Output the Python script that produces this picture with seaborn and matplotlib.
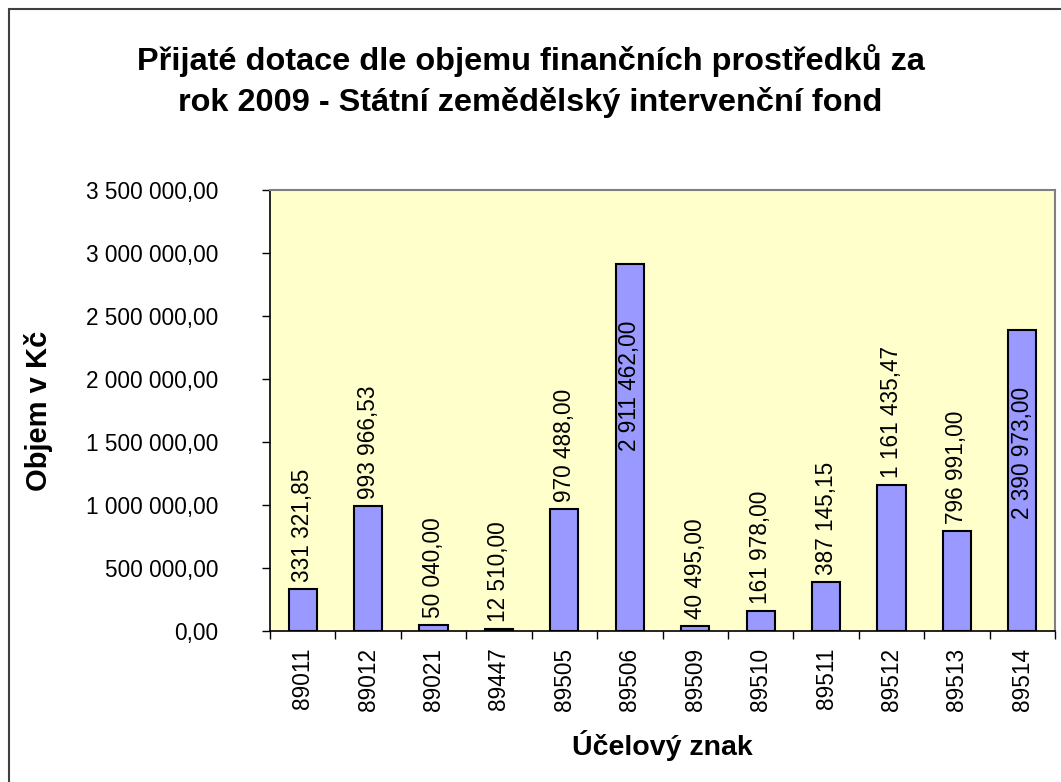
import matplotlib
matplotlib.use('Agg')
import matplotlib.pyplot as plt
import matplotlib.ticker as mticker
import seaborn as sns
import pandas as pd
from matplotlib.patches import Rectangle

# data
znaky = ['89011', '89012', '89021', '89447', '89505', '89506',
         '89509', '89510', '89511', '89512', '89513', '89514']
objem = [331321.85, 993966.53, 50040.00, 12510.00, 970488.00, 2911462.00,
         40495.00, 161978.00, 387145.15, 1161435.47, 796991.00, 2390973.00]

df = pd.DataFrame({'znak': znaky, 'objem': objem})

def cz_format(v, pos=None):
    s = f"{v:,.2f}"
    return s.replace(',', ' ').replace('.', ',')

sns.set_style('white')
plt.rcParams['font.family'] = ['Liberation Sans', 'DejaVu Sans']
plt.rcParams['text.color'] = 'black'
plt.rcParams['axes.labelcolor'] = 'black'
plt.rcParams['xtick.color'] = 'black'
plt.rcParams['ytick.color'] = 'black'

fig = plt.figure(figsize=(10.61, 7.82), dpi=100)
ax = fig.add_axes([270/1061, 1 - 631/782, (1055-270)/1061, (631-190)/782])
ax.set_facecolor('#FFFFCC')

sns.barplot(data=df, x='znak', y='objem', color='#9999FF', edgecolor='black',
            linewidth=1.5, width=0.43, saturation=1, ax=ax)

ax.set_ylim(0, 3500000)
ax.set_xlim(-0.5, len(znaky) - 0.5)
ax.yaxis.set_major_locator(mticker.MultipleLocator(500000))
ax.yaxis.set_major_formatter(mticker.FuncFormatter(cz_format))

# Excel style: ticks between categories
ax.set_xticks(range(len(znaky)))
ax.set_xticklabels(znaky, rotation=90, fontsize=16.3)
ax.set_xticks([i - 0.5 for i in range(len(znaky) + 1)], minor=True)
ax.tick_params(axis='x', which='major', length=0, pad=12)
ax.tick_params(axis='x', which='minor', length=6, width=1, color='black', direction='out', bottom=True)
ax.tick_params(axis='y', length=6, width=1, color='black', direction='out', left=True, pad=31, labelsize=16.3)

for side in ['top', 'right']:
    ax.spines[side].set_color('#808080')
    ax.spines[side].set_linewidth(1.5)
for side in ['left', 'bottom']:
    ax.spines[side].set_color('black')
    ax.spines[side].set_linewidth(1.2)

# data labels
for p, v in zip(ax.patches, objem):
    x = p.get_x() + p.get_width() / 2
    if v > 2000000:
        ax.annotate(cz_format(v), (x, v), xytext=(0, -41), textcoords='offset points',
                    ha='center', va='top', rotation=90, fontsize=16.3)
    else:
        ax.annotate(cz_format(v), (x, v), xytext=(0, 5), textcoords='offset points',
                    ha='center', va='bottom', rotation=90, fontsize=16.3)

ax.set_xlabel('Účelový znak', fontsize=20.5, fontweight='bold', labelpad=14)
ax.set_ylabel('Objem v Kč', fontsize=21, fontweight='bold')
ax.yaxis.set_label_coords(-0.277, 0.5)

fig.text(0.5, 1 - 81/782, 'Přijaté dotace dle objemu finančních prostředků za\nrok 2009 - Státní zemědělský intervenční fond',
         ha='center', va='center', fontsize=23.4, fontweight='bold', linespacing=1.4)

# outer chart border
fig.patches.append(Rectangle((9/1061, -0.1), 1.2, 1 - 9/782 + 0.1, transform=fig.transFigure,
                             fill=False, edgecolor='#404040', linewidth=1.5))

fig.savefig('out.png', dpi=100)
